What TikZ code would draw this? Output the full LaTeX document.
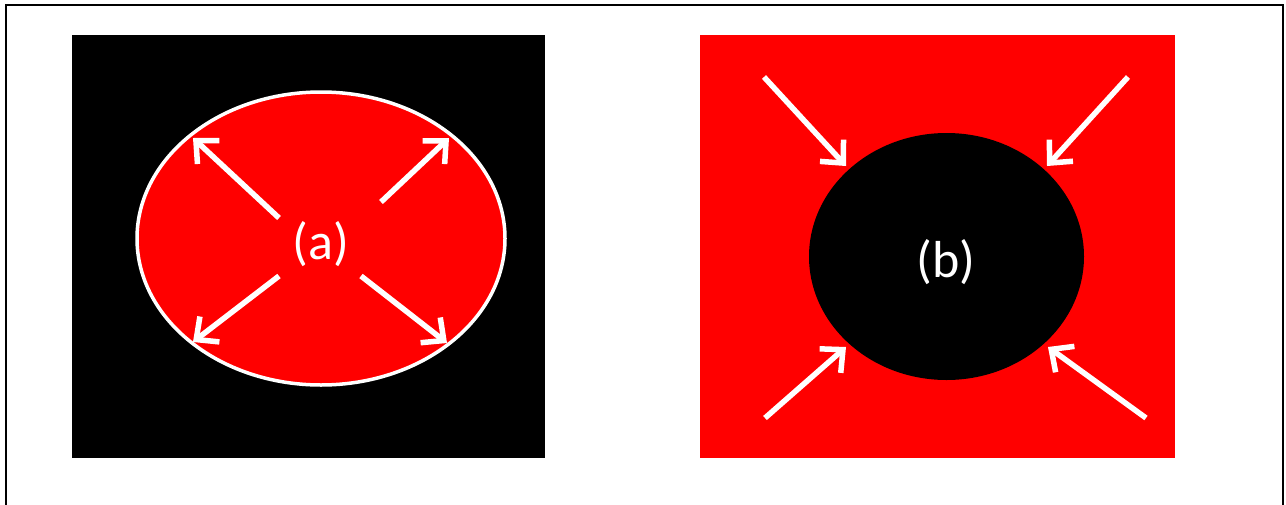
\documentclass[tikz,border=0pt]{standalone}
\usepackage{fontspec}
\setmainfont{Carlito}
\usetikzlibrary{arrows.meta,shapes.geometric}
\begin{document}
\begin{tikzpicture}[x=1pt,y=-1pt,
  warrow/.style={draw=white,line width=5.5pt,-{Straight Barb[length=17pt,width=32pt,line width=5.5pt]}},
  lbl/.style={text=white,font=\fontsize{52}{60}\selectfont,inner sep=0pt}]
\useasboundingbox (0,0) rectangle (1286,504);
\draw[line width=1.6pt] (6,520) -- (6,5) -- (1283,5) -- (1283,520);
% panel a
\fill[black] (72,35) rectangle (545,458);
\node[ellipse,draw=white,fill=red,line width=3.5pt,minimum width=368pt,minimum height=293pt,inner sep=0pt] (ea) at (321,238.5) {};
\node[lbl] (la) at (321,244) {(a)};
\coordinate (a1s) at (279,218); \coordinate (a1t) at (193,138);
\coordinate (a2s) at (381,202); \coordinate (a2t) at (449,138);
\coordinate (a3s) at (279,276); \coordinate (a3t) at (193,342);
\coordinate (a4s) at (361,276); \coordinate (a4t) at (447,343);
\draw[warrow] (a1s) -- (a1t);
\draw[warrow] (a2s) -- (a2t);
\draw[warrow] (a3s) -- (a3t);
\draw[warrow] (a4s) -- (a4t);
% panel b
\fill[red] (700,35) rectangle (1175,458);
\node[ellipse,fill=black,minimum width=275pt,minimum height=247pt,inner sep=0pt] (eb) at (946.5,256.5) {};
\node[lbl] (lb) at (946,262) {(b)};
\coordinate (b1s) at (764,77);  \coordinate (b1t) at (846,166);
\coordinate (b2s) at (1128,77); \coordinate (b2t) at (1047,166);
\coordinate (b3s) at (765,418); \coordinate (b3t) at (846,347);
\coordinate (b4s) at (1146,418); \coordinate (b4t) at (1048,347);
\draw[warrow] (b1s) -- (b1t);
\draw[warrow] (b2s) -- (b2t);
\draw[warrow] (b3s) -- (b3t);
\draw[warrow] (b4s) -- (b4t);
\end{tikzpicture}
\end{document}
